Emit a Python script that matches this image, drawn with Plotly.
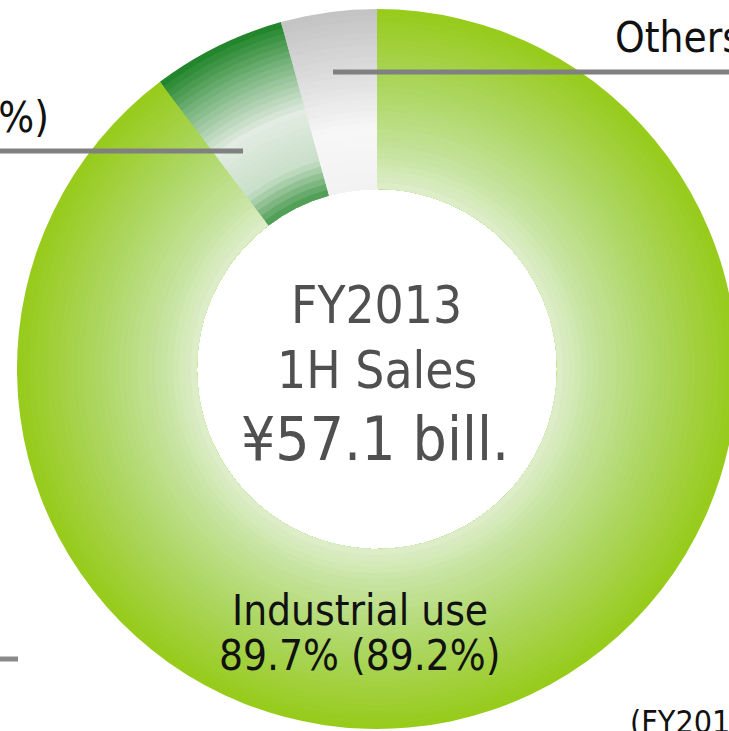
import plotly.graph_objects as go

# ---- data ----
categories = ["Industrial use", "Consumer use", "Others"]
share_pct = [89.7, 6.0, 4.3]
prev_pct = [89.2, 6.3, 4.5]
center_lines = ["FY2013", "1H Sales", "¥57.1 bill."]
footnote = "(FY2012 1H)"

# ---- geometry / style ----
# canvas is a little larger than the 729x731 view; the view crops it like the reference
W, H = 745, 745
CX, CY, R_OUT, R_IN = 377, 369, 360, 180
N_RINGS = 30
FONT = "DejaVu Sans Condensed, DejaVu Sans, Verdana, sans-serif"

slice_stops = [
    [(0.0, "#e0efcf"), (0.22, "#c6e39e"), (0.55, "#aed766"), (1.0, "#97cb1c")],
    [(0.0, "#3d9443"), (0.22, "#c9dfc9"), (0.5, "#e2ece2"), (0.78, "#7ab57e"), (1.0, "#23862c")],
    [(0.0, "#f2f2f2"), (0.35, "#f7f7f7"), (0.7, "#dadada"), (1.0, "#c4c4c4")],
]


def hex2rgb(h):
    h = h.lstrip("#")
    return tuple(int(h[i:i + 2], 16) for i in (0, 2, 4))


def interp(stops, t):
    for (t0, c0), (t1, c1) in zip(stops[:-1], stops[1:]):
        if t0 <= t <= t1:
            f = 0 if t1 == t0 else (t - t0) / (t1 - t0)
            a, b = hex2rgb(c0), hex2rgb(c1)
            return "rgb(%d,%d,%d)" % tuple(round(a[k] + (b[k] - a[k]) * f) for k in range(3))
    return stops[-1][1]


fig = go.Figure()
for i in range(N_RINGS):
    r = R_OUT - (R_OUT - R_IN) * i / N_RINGS
    t = (r - R_IN) / (R_OUT - R_IN)
    colors = [interp(s, t) for s in slice_stops]
    fig.add_trace(go.Pie(
        values=share_pct, labels=categories, sort=False,
        direction="clockwise", rotation=0, hole=R_IN / r,
        domain=dict(x=[(CX - r) / W, (CX + r) / W],
                    y=[(H - CY - r) / H, (H - CY + r) / H]),
        marker=dict(colors=colors, line=dict(width=0)),
        textinfo="none", hoverinfo="skip", showlegend=False,
    ))


def px_x(x):
    return x / W


def px_y(y):
    return 1 - y / H


annotations = []


def ann(text, x, y, size, color, xanchor="center"):
    annotations.append(dict(
        text=text, x=px_x(x), y=px_y(y), xref="paper", yref="paper",
        xanchor=xanchor, yanchor="middle", showarrow=False,
        font=dict(family=FONT, size=size, color=color),
    ))


# centre text
ann(center_lines[0], 376, 305, 51, "#505050")
ann(center_lines[1], 377, 371, 51, "#505050")
ann(center_lines[2], 375, 439, 60, "#505050")

# slice labels
ann(categories[0], 360, 610, 42, "#111111")
ann(f"{share_pct[0]}% ({prev_pct[0]}%)", 360, 655, 42, "#111111")
ann(f"{categories[1]} {share_pct[1]}% ({prev_pct[1]}%)", 51, 117, 42, "#111111", xanchor="right")
ann(f"{categories[2]} {share_pct[2]}% ({prev_pct[2]}%)", 613, 38, 42, "#111111", xanchor="left")
ann(footnote, 628, 722, 32, "#111111", xanchor="left")

shapes = [
    dict(type="line", xref="paper", yref="paper", x0=px_x(333), x1=px_x(745), y0=px_y(72), y1=px_y(72),
         line=dict(color="#808080", width=5)),
    dict(type="line", xref="paper", yref="paper", x0=px_x(0), x1=px_x(243), y0=px_y(151), y1=px_y(151),
         line=dict(color="#808080", width=5)),
    dict(type="line", xref="paper", yref="paper", x0=px_x(0), x1=px_x(18), y0=px_y(659), y1=px_y(659),
         line=dict(color="#8a8a8a", width=5)),
]

fig.update_layout(
    width=W, height=H,
    margin=dict(l=0, r=0, t=0, b=0, pad=0),
    paper_bgcolor="white", plot_bgcolor="white",
    annotations=annotations, shapes=shapes,
    showlegend=False,
)

fig.write_html(
    "out.html",
    config={"displayModeBar": False},
    post_script="document.body.style.margin='0px';"
                "document.documentElement.style.overflow='hidden';"
                "document.body.style.overflow='hidden';",
)
